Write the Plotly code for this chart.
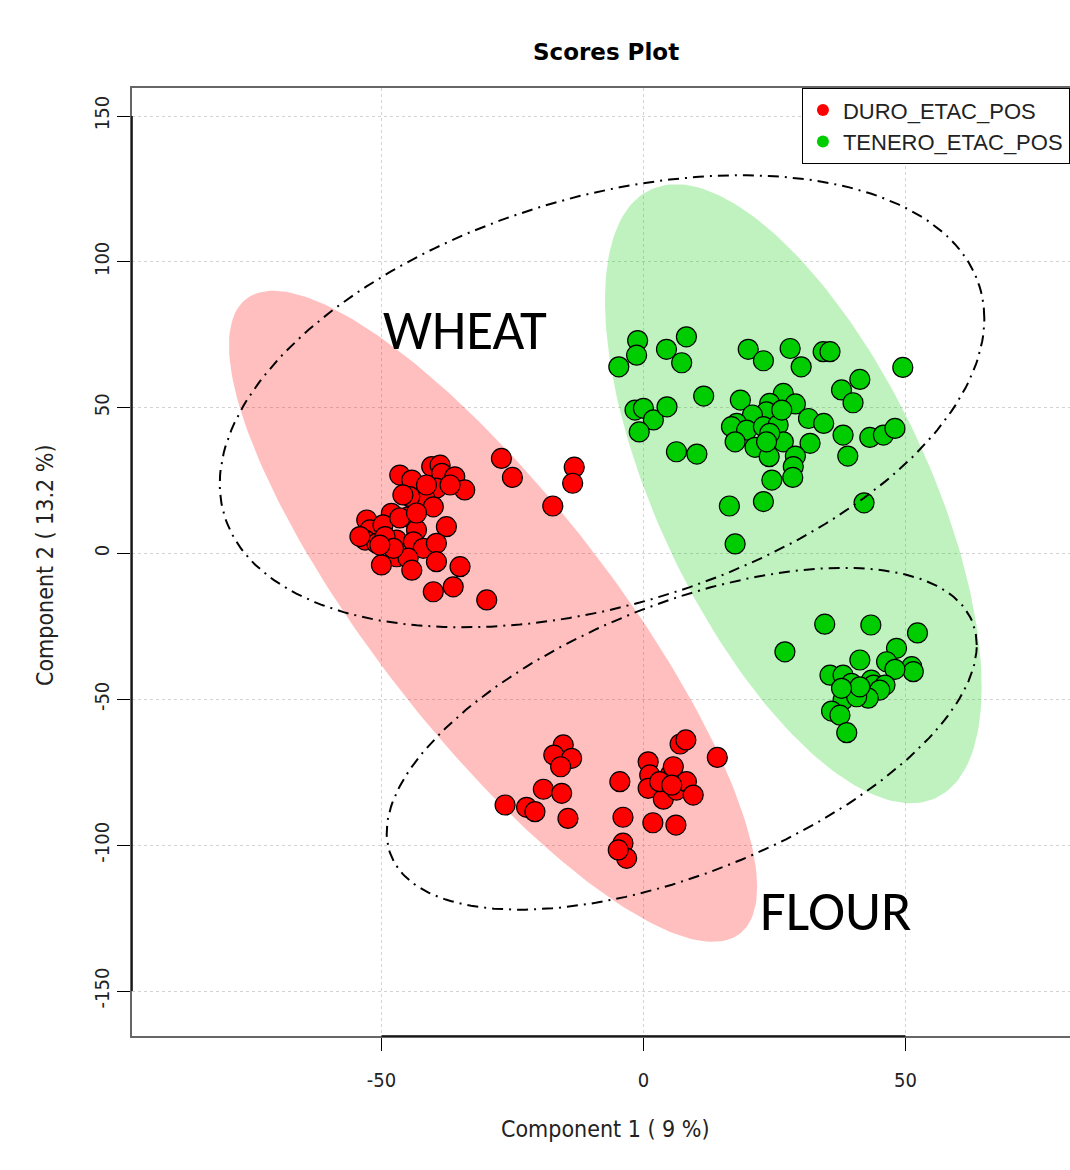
import numpy as np
import plotly.graph_objects as go

# ---- scores (Component 1, Component 2) ----
duro_x = [-46.5, -44.2, -40.4, -38.8, -38.5, -36.0, -34.1, -39.5, -41.7, -44.6,
          -40.1, -44.9, -48.1, -52.8, -52.2, -49.7, -43.3, -37.6, -53.1, -50.9,
          -47.1, -43.9, -42.0, -39.5, -47.1, -44.9, -50.0, -44.2, -39.5, -35.0,
          -40.1, -36.3, -29.9, -49.3, -46.5, -54.1, -47.7, -43.3, -45.9, -41.4,
          -36.9, -50.3, -27.1, -25.0, -13.2, -13.5, -17.3,
          -15.3, -17.1, -13.7, -15.8, -19.1, -15.6, -26.4, -22.3, -20.7, -14.4,
          -4.5, -3.9, -3.9, -3.2, 0.9, 1.2, 0.9, 3.8, 5.1, 5.7, 6.3, 8.2, 9.5,
          7.0, 8.1, 14.1, 1.8, 6.2, -4.8, 3.1, 5.4]
duro_y = [26.9, 25.2, 29.8, 30.3, 27.5, 26.3, 21.8, 22.4, 18.9, 19.5,
          16.0, 12.6, 13.8, 11.5, 8.1, 9.8, 8.1, 9.2, 4.6, 3.5,
          4.6, 4.0, 1.8, 3.5, -1.1, -1.6, -3.9, -5.7, -2.8, -4.5,
          -13.1, -11.4, -15.9, 5.8, 12.2, 5.8, 1.8, 13.9, 20.1, 23.5,
          23.5, 2.9, 32.6, 26.1, 29.6, 24.1, 16.3,
          -65.6, -69.1, -70.2, -73.1, -80.8, -82.2, -86.2, -87.0, -88.5, -90.8,
          -78.2, -90.4, -99.3, -104.5, -71.4, -75.9, -80.5, -84.2, -75.9, -73.1,
          -81.1, -78.2, -82.8, -65.3, -63.9, -69.9, -92.3, -93.1, -101.6, -78.2, -79.4]

tenero_x = [-1.1, -1.3, -4.7, 4.4, 8.2, 7.3, 20.0, 22.9, 28.0, 30.1,
            34.3, 35.6, 49.5, 11.5, -1.6, 0.0, 1.9, 4.5, -0.8, 6.3,
            10.2, 18.5, 26.7, 29.0, 24.1, 23.5, 20.8, 17.8, 16.8, 19.7,
            22.9, 25.7, 31.5, 34.4, 37.8, 41.3, 40.0, 17.5, 21.3, 24.0,
            26.7, 31.8, 38.1, 43.2, 45.8, 48.0, 39.0, 29.0, 28.6, 28.5,
            24.5, 22.9, 16.4, 42.1, 24.1, 23.5, 26.4, 17.5,
            34.6, 43.4, 52.3, 27.0, 48.3, 41.3, 46.4, 51.2, 51.5, 48.0,
            35.6, 38.1, 39.7, 43.5, 43.9, 46.1, 45.1, 38.1, 42.9, 40.7,
            35.9, 37.5, 38.8, 41.3, 37.8]
tenero_y = [73.0, 68.0, 64.0, 70.0, 74.3, 65.4, 70.0, 66.1, 70.3, 64.0,
            69.2, 69.2, 63.8, 54.0, 49.2, 49.8, 45.8, 50.3, 41.7, 34.9,
            34.1, 52.6, 54.9, 51.3, 51.5, 48.6, 47.5, 44.6, 43.5, 42.3,
            43.5, 44.1, 46.3, 44.6, 56.1, 59.7, 51.7, 38.3, 36.4, 33.2,
            38.3, 37.8, 40.6, 39.8, 40.6, 42.9, 33.4, 33.4, 29.8, 26.1,
            25.2, 17.8, 16.3, 17.4, 41.2, 38.3, 49.2, 3.3,
            -24.2, -24.5, -27.2, -33.7, -32.5, -36.5, -37.1, -38.8, -40.5, -39.7,
            -41.7, -41.7, -44.5, -43.4, -45.1, -45.1, -46.8, -50.2, -49.6, -49.1,
            -54.0, -55.4, -61.4, -45.7, -46.2]

# ---- ellipses: centre and covariance (sxx, syy, sxy) ----
duro_centre = [-28.7, -21.5]
duro_cov = [2540.0, 12455.0, -4680.0]
tenero_centre = [28.6, 20.5]
tenero_cov = [1292.0, 11257.0, -2380.0]
wheat_centre = [-7.9, 52.2]
wheat_cov = [5322.0, 6006.0, 2065.0]
flour_centre = [7.3, -63.5]
flour_cov = [3170.0, 3434.0, 1810.0]

group_names = ["DURO_ETAC_POS", "TENERO_ETAC_POS"]
x_ticks = [-50, 0, 50]
y_ticks = [-150, -100, -50, 0, 50, 100, 150]

RED = "#FF0000"
GREEN = "#00CD00"
AXIS_FONT = "Liberation Sans Narrow, DejaVu Sans Condensed, Arial Narrow, sans-serif"
LABEL_FONT = "Carlito, Open Sans, Noto Sans, sans-serif"


def ellipse(centre, cov, n=240):
    sxx, syy, sxy = cov
    L = np.linalg.cholesky(np.array([[sxx, sxy], [sxy, syy]]))
    t = np.linspace(0, 2 * np.pi, n)
    pts = L @ np.vstack([np.cos(t), np.sin(t)])
    return pts[0] + centre[0], pts[1] + centre[1]


fig = go.Figure()

# shaded group ellipses
for centre, cov, col in [(duro_centre, duro_cov, "rgba(255,0,0,0.25)"),
                         (tenero_centre, tenero_cov, "rgba(0,205,0,0.25)")]:
    ex, ey = ellipse(centre, cov)
    fig.add_trace(go.Scatter(x=ex, y=ey, mode="lines", fill="toself",
                             fillcolor=col, line=dict(width=0),
                             hoverinfo="skip", showlegend=False))

# score points
for xs, ys, col in [(duro_x, duro_y, RED), (tenero_x, tenero_y, GREEN)]:
    fig.add_trace(go.Scatter(x=xs, y=ys, mode="markers", showlegend=False,
                             marker=dict(size=20, color=col,
                                         line=dict(color="black", width=1.2))))

# dash-dot outlines around wheat and flour samples
for centre, cov in [(wheat_centre, wheat_cov), (flour_centre, flour_cov)]:
    ex, ey = ellipse(centre, cov)
    fig.add_trace(go.Scatter(x=ex, y=ey, mode="lines", hoverinfo="skip",
                             showlegend=False,
                             line=dict(color="black", width=2,
                                       dash="11px,6px,2px,6px")))

# legend entries
for name, col in zip(group_names, [RED, GREEN]):
    fig.add_trace(go.Scatter(x=[None], y=[None], mode="markers", name=name,
                             marker=dict(size=12, color=col, line=dict(width=0))))

fig.add_annotation(x=-34.1, y=76.3, text="WHEAT", showarrow=False,
                   font=dict(family=LABEL_FONT, size=55, color="black"))
fig.add_annotation(x=36.7, y=-122.6, text="FLOUR", showarrow=False,
                   font=dict(family=LABEL_FONT, size=56, color="black"))

# axis titles
fig.add_annotation(xref="paper", yref="paper", x=0.5053, y=-0.098,
                   xanchor="center", yanchor="middle",
                   text="Component 1 ( 9 %)", showarrow=False,
                   font=dict(family=AXIS_FONT, size=23, color="#222"))
fig.add_annotation(xref="paper", yref="paper", x=-0.0928, y=0.4968,
                   xanchor="center", yanchor="middle",
                   text="Component 2 ( 13.2 %)", showarrow=False, textangle=-90,
                   font=dict(family=AXIS_FONT, size=23, color="#222"))

# black axis segments spanning the tick range
fig.add_shape(type="line", xref="x", yref="paper", x0=-50, x1=50, y0=0, y1=0,
              line=dict(color="black", width=1.5))
fig.add_shape(type="line", xref="paper", yref="y", x0=0, x1=0, y0=-150, y1=150,
              line=dict(color="black", width=1.5))

fig.update_layout(
    width=1070, height=1170,
    margin=dict(l=132, r=0, t=88, b=134, autoexpand=False),
    paper_bgcolor="white", plot_bgcolor="white",
    title=dict(text="<b>Scores Plot</b>", x=0.5664, xref="container",
               y=0.956, yref="container", xanchor="center", yanchor="middle",
               font=dict(family="DejaVu Sans, Liberation Sans, sans-serif",
                         size=23, color="black")),
    legend=dict(x=0.714, y=1.0, xanchor="left", yanchor="top",
                bgcolor="white", bordercolor="black", borderwidth=1.2,
                font=dict(family="Liberation Sans, Arial, sans-serif",
                          size=22, color="#222"),
                tracegroupgap=0),
    showlegend=True,
)
fig.update_xaxes(range=[-97.6, 81.4], tickvals=x_ticks,
                 ticktext=[str(v) for v in x_ticks],
                 showgrid=True, gridcolor="#D3D3D3", griddash="dot", gridwidth=1,
                 zeroline=False, showline=True, linecolor="#666666", linewidth=2,
                 mirror=True, ticks="outside", ticklen=13, tickcolor="black",
                 ticklabelstandoff=12,
                 tickfont=dict(family=AXIS_FONT, size=20, color="#222"))
fig.update_yaxes(range=[-165.4, 159.6], tickvals=y_ticks,
                 ticktext=[str(v) for v in y_ticks], tickangle=-90,
                 showgrid=True, gridcolor="#D3D3D3", griddash="dot", gridwidth=1,
                 zeroline=False, showline=True, linecolor="#666666", linewidth=2,
                 mirror=False, ticks="outside", ticklen=13, tickcolor="black",
                 tickfont=dict(family=AXIS_FONT, size=20, color="#222"))

fig.write_html("out.html")
